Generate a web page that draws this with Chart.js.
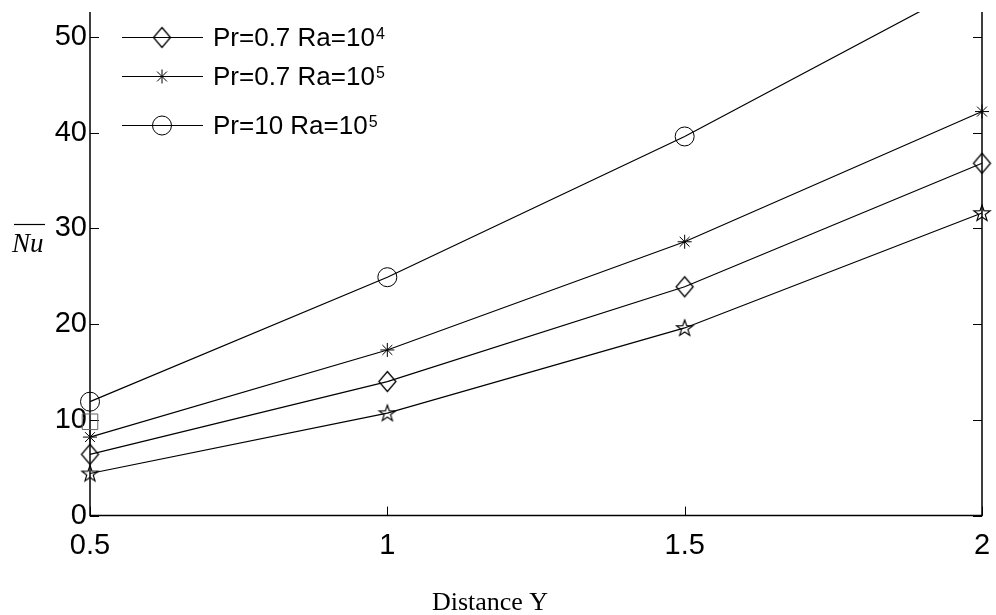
<!DOCTYPE html>
<html>
<head>
<meta charset="utf-8">
<script src="https://cdn.jsdelivr.net/npm/chart.js@4.4.0/dist/chart.umd.min.js"></script>
<style>
  body { margin: 0; background: #fff; }
  #wrap { width: 996px; height: 615px; }
</style>
</head>
<body>
<div id="wrap"><canvas id="nuChart"></canvas></div>
<script>
// Distance Y (x axis)
const distanceY = [0.5, 1, 1.5, 2];
// mean Nusselt number
const nuPr07Ra4 = [6.4, 14.0, 23.9, 36.8];   // diamonds
const nuPr07Ra5 = [8.2, 17.3, 28.6, 42.2];   // asterisks
const nuPr10Ra5 = [11.9, 24.9, 39.6, 56.1];  // circles
const nuStarSeries = [4.4, 10.7, 19.6, 31.6];   // pentagrams (no legend entry)
const squareX = [0.5];
const squareY = [9.8];

// legend text (base + superscript)
const legendText = ["Pr=0.7 Ra=10", "Pr=0.7 Ra=10", "Pr=10 Ra=10"];
const legendSup = ["4", "5", "5"];

// axis ticks
const xTicks = [0.5, 1, 1.5, 2];
const yTicks = [0, 10, 20, 30, 40, 50];
const yMax = 52.6;

// custom marker shapes
function makeDiamond() {
  const c = document.createElement("canvas");
  c.width = 21; c.height = 25;
  const g = c.getContext("2d");
  g.strokeStyle = "#000";
  g.lineWidth = 1.3;
  g.beginPath();
  g.moveTo(10.5, 2.5);
  g.lineTo(19, 12.5);
  g.lineTo(10.5, 22.5);
  g.lineTo(2, 12.5);
  g.closePath();
  g.stroke();
  return c;
}

function makePentagram() {
  const c = document.createElement("canvas");
  c.width = 20; c.height = 20;
  const g = c.getContext("2d");
  g.strokeStyle = "#000";
  g.lineWidth = 1.2;
  g.beginPath();
  for (let i = 0; i < 10; i++) {
    const r = i % 2 === 0 ? 8.5 : 3.4;
    const a = -Math.PI / 2 + (i * Math.PI) / 5;
    const px = 10 + r * Math.cos(a);
    const py = 10.5 + r * Math.sin(a);
    if (i === 0) g.moveTo(px, py);
    else g.lineTo(px, py);
  }
  g.closePath();
  g.stroke();
  return c;
}

const diamondImg = makeDiamond();
const pentagramImg = makePentagram();

const toPoints = (ys, xs) => ys.map((v, i) => ({ x: xs[i], y: v }));

const baseSet = {
  borderColor: "#000",
  borderWidth: 1.2,
  pointBorderColor: "#000",
  pointBackgroundColor: "rgba(0,0,0,0)",
  pointBorderWidth: 1,
  fill: false,
  tension: 0,
  clip: { left: 30, right: 30, top: 0, bottom: 30 },
};

// frame with inward ticks, drawn with the chart's own scales
const framePlugin = {
  id: "frame",
  beforeDatasetsDraw(chart) {
    const { ctx, chartArea: a, scales } = chart;
    ctx.save();
    ctx.strokeStyle = "#000";
    ctx.lineWidth = 1.5;
    ctx.beginPath();
    ctx.moveTo(a.left, a.top);
    ctx.lineTo(a.left, a.bottom);
    ctx.lineTo(a.right, a.bottom);
    ctx.lineTo(a.right, a.top);
    ctx.stroke();
    ctx.lineWidth = 1;
    ctx.beginPath();
    yTicks.forEach((v) => {
      const py = Math.round(scales.y.getPixelForValue(v)) + 0.5;
      ctx.moveTo(a.left, py);
      ctx.lineTo(a.left + 9, py);
      ctx.moveTo(a.right - 9, py);
      ctx.lineTo(a.right, py);
    });
    xTicks.forEach((v) => {
      const px = Math.round(scales.x.getPixelForValue(v)) + 0.5;
      ctx.moveTo(px, a.bottom);
      ctx.lineTo(px, a.bottom - 9);
    });
    ctx.stroke();
    ctx.restore();
  },
};

// legend, axis titles
const labelsPlugin = {
  id: "labels",
  afterDraw(chart) {
    const { ctx } = chart;
    ctx.save();
    ctx.fillStyle = "#000";
    ctx.strokeStyle = "#000";

    // y title: Nu with overline
    ctx.font = "italic 27px 'Liberation Serif'";
    ctx.textAlign = "left";
    ctx.textBaseline = "alphabetic";
    ctx.fillText("Nu", 12, 252);
    ctx.lineWidth = 1.2;
    ctx.beginPath();
    ctx.moveTo(14, 224.5);
    ctx.lineTo(45, 224.5);
    ctx.stroke();

    // x title
    ctx.font = "26px 'Liberation Serif'";
    ctx.textAlign = "center";
    ctx.fillText("Distance Y", 490, 610);

    // legend
    const rowY = [37.5, 76.5, 125.5];
    ctx.textAlign = "left";
    for (let i = 0; i < 3; i++) {
      const ds = chart.data.datasets[i];
      const y = rowY[i];
      ctx.lineWidth = 1;
      ctx.beginPath();
      ctx.moveTo(122, y);
      ctx.lineTo(203, y);
      ctx.stroke();
      ctx.fillStyle = "rgba(0,0,0,0)";
      Chart.helpers.drawPoint(ctx, { pointStyle: ds.pointStyle, radius: ds.pointRadius, rotation: 0, borderWidth: 1 }, 162, y);
      ctx.fillStyle = "#000";
      ctx.font = "26px 'Liberation Sans'";
      ctx.fillText(legendText[i], 213, y + 8);
      const w = ctx.measureText(legendText[i]).width;
      ctx.font = "16px 'Liberation Sans'";
      ctx.fillText(legendSup[i], 213 + w + 1, y + 1);
    }
    ctx.restore();
  },
};

new Chart(document.getElementById("nuChart"), {
  type: "line",
  data: {
    datasets: [
      { ...baseSet, label: "Pr=0.7 Ra=10^4", data: toPoints(nuPr07Ra4, distanceY), pointStyle: diamondImg, pointRadius: 10 },
      { ...baseSet, label: "Pr=0.7 Ra=10^5", data: toPoints(nuPr07Ra5, distanceY), pointStyle: "star", pointRadius: 7 },
      { ...baseSet, label: "Pr=10 Ra=10^5", data: toPoints(nuPr10Ra5, distanceY), pointStyle: "circle", pointRadius: 9.5 },
      { ...baseSet, label: "", data: toPoints(nuStarSeries, distanceY), pointStyle: pentagramImg, pointRadius: 9 },
      {
        ...baseSet, label: "", data: toPoints(squareY, squareX), showLine: false,
        pointStyle: "rect", pointRadius: 11, pointBorderColor: "#666",
      },
    ],
  },
  options: {
    responsive: true,
    maintainAspectRatio: false,
    animation: false,
    devicePixelRatio: 1,
    layout: { padding: { left: 55, right: 14, top: 12, bottom: 49.4 } },
    plugins: { legend: { display: false }, tooltip: { enabled: false } },
    scales: {
      x: {
        type: "linear",
        min: 0.5,
        max: 2,
        grid: { display: false, drawTicks: false },
        border: { display: false },
        afterBuildTicks: (s) => { s.ticks = xTicks.map((v) => ({ value: v })); },
        afterFit: (s) => { s.height = 50; s.paddingLeft = 0; s.paddingRight = 0; },
        ticks: {
          color: "#000",
          padding: 13,
          maxRotation: 0,
          font: { family: "'Liberation Sans'", size: 29 },
          callback: (v) => String(v),
        },
      },
      y: {
        type: "linear",
        min: 0,
        max: yMax,
        grid: { display: false, drawTicks: false },
        border: { display: false },
        afterBuildTicks: (s) => { s.ticks = yTicks.map((v) => ({ value: v })); },
        afterFit: (s) => { s.width = 35; s.paddingTop = 0; s.paddingBottom = 0; },
        ticks: {
          color: "#000",
          padding: 3,
          font: { family: "'Liberation Sans'", size: 29 },
          callback: (v) => String(v),
        },
      },
    },
  },
  plugins: [framePlugin, labelsPlugin],
});
</script>
</body>
</html>
